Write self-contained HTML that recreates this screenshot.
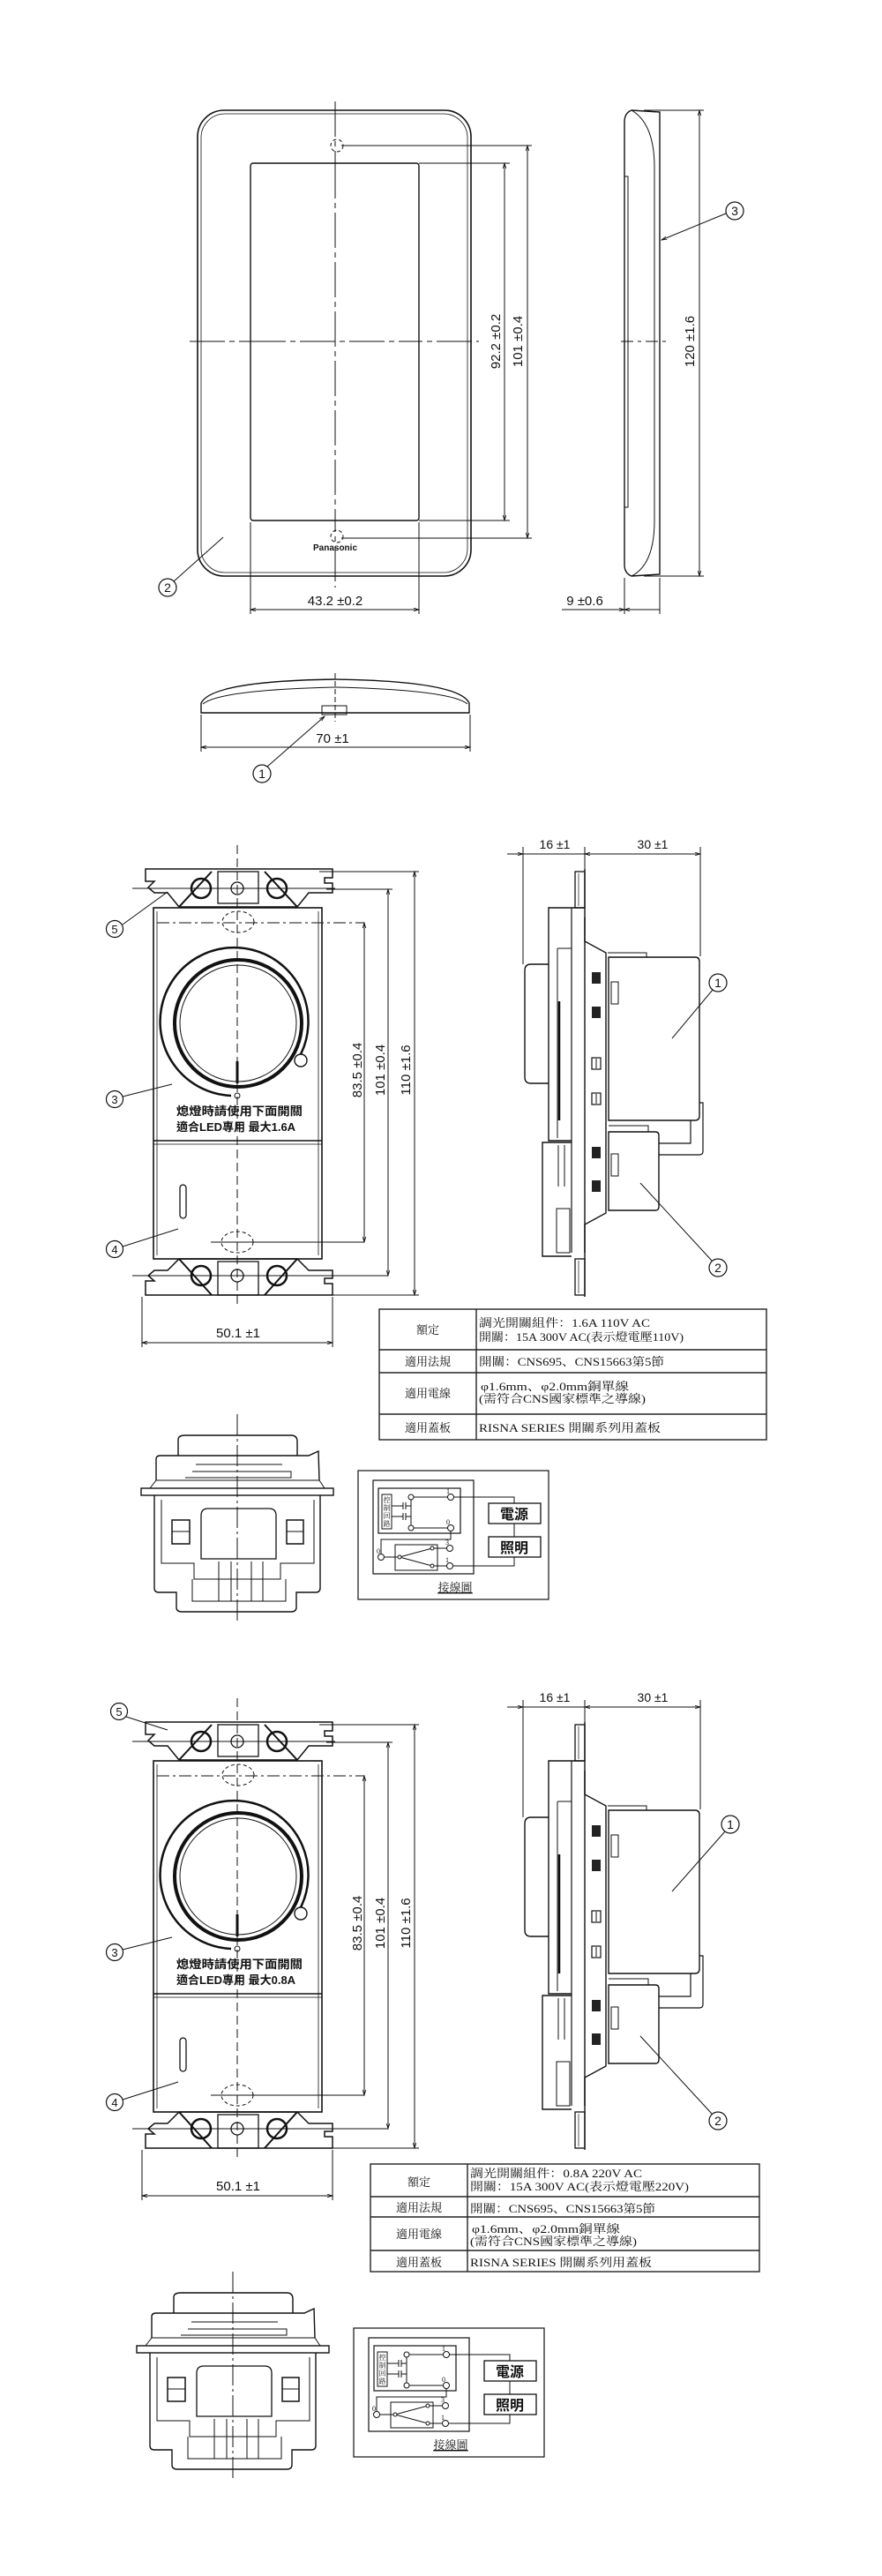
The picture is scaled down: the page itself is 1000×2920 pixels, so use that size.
<!DOCTYPE html>
<html><head><meta charset="utf-8"><style>
html,body{margin:0;padding:0;background:#fff}
svg{display:block}
text{font-family:"Liberation Sans","Noto Sans CJK TC",sans-serif;fill:#111}
.s{font-family:"Liberation Serif","Noto Serif CJK SC","Noto Sans CJK TC",serif}
</style></head><body>
<svg width="1000" height="2920" viewBox="0 0 1000 2920" xmlns="http://www.w3.org/2000/svg">
<defs>
<marker id="a" viewBox="0 0 10 10" refX="10" refY="5" markerWidth="9" markerHeight="6" orient="auto-start-reverse"><path d="M0,2 L10,5 L0,8" fill="none" stroke="#111" stroke-width="1.3"/></marker>
<g id="sw">
 <!-- front view -->
 <line x1="269" y1="958" x2="269" y2="1482" stroke="#111" stroke-width="1" stroke-dasharray="10,5"/>
 <path d="M165,985 L377,985 L377,995 L368,995 L368,1001 L377,1001 L377,1012 L350,1012 L337,1028 L203,1028 L190,1012 L175,1012 L168,1006 L175,999 L165,999 Z" fill="none" stroke="#111" stroke-width="1.5"/>
 <rect x="247" y="988" width="46" height="36" fill="none" stroke="#111" stroke-width="1.3"/>
 <circle cx="269" cy="1007" r="7" fill="none" stroke="#111" stroke-width="1.3"/>
 <circle cx="228" cy="1007" r="11" fill="none" stroke="#111" stroke-width="2.5"/>
 <circle cx="314" cy="1007" r="11" fill="none" stroke="#111" stroke-width="2.5"/>
 <line x1="203" y1="1028" x2="240" y2="988" stroke="#111" stroke-width="2"/>
 <line x1="337" y1="1028" x2="300" y2="988" stroke="#111" stroke-width="2"/>
 <line x1="150" y1="1007" x2="380" y2="1007" stroke="#111" stroke-width="1"/>
 <path d="M165,1468 L377,1468 L377,1455 L368,1455 L368,1449 L377,1449 L377,1440 L350,1440 L337,1427 L203,1427 L190,1440 L175,1440 L168,1446 L175,1452 L165,1452 Z" fill="none" stroke="#111" stroke-width="1.5"/>
 <rect x="247" y="1430" width="46" height="38" fill="none" stroke="#111" stroke-width="1.3"/>
 <circle cx="269" cy="1446" r="7" fill="none" stroke="#111" stroke-width="1.3"/>
 <circle cx="228" cy="1446" r="11" fill="none" stroke="#111" stroke-width="2.5"/>
 <circle cx="314" cy="1446" r="11" fill="none" stroke="#111" stroke-width="2.5"/>
 <line x1="203" y1="1427" x2="240" y2="1468" stroke="#111" stroke-width="2"/>
 <line x1="337" y1="1427" x2="300" y2="1468" stroke="#111" stroke-width="2"/>
 <line x1="150" y1="1446" x2="440" y2="1446" stroke="#111" stroke-width="1"/>
 <rect x="174" y="1029" width="191" height="398" fill="none" stroke="#111" stroke-width="1.6"/>
 <line x1="178" y1="1033" x2="178" y2="1423" stroke="#111" stroke-width="0.8"/>
 <line x1="361" y1="1033" x2="361" y2="1423" stroke="#111" stroke-width="0.8"/>
 <line x1="174" y1="1293" x2="365" y2="1293" stroke="#111" stroke-width="1.6"/>
 <line x1="174" y1="1297" x2="365" y2="1297" stroke="#111" stroke-width="0.8"/>
 <ellipse cx="270" cy="1045" rx="18" ry="12" fill="none" stroke="#111" stroke-dasharray="4,3"/>
 <ellipse cx="269" cy="1408" rx="18" ry="12" fill="none" stroke="#111" stroke-dasharray="4,3"/>
 <line x1="178" y1="1046" x2="413" y2="1046" stroke="#111" stroke-dasharray="14,4,3,4"/>
 <line x1="239" y1="1408" x2="413" y2="1408" stroke="#111"/>
 <path d="M262,1242 A84,84 0 1 1 341,1195" fill="none" stroke="#111" stroke-width="2.5"/>
 <circle cx="341" cy="1202" r="7" fill="none" stroke="#111" stroke-width="1.4"/>
 <circle cx="269" cy="1242" r="3" fill="none" stroke="#111"/>
 <circle cx="270" cy="1160" r="72" fill="none" stroke="#111" stroke-width="4"/>
 <circle cx="270" cy="1160" r="66" fill="none" stroke="#111" stroke-width="1"/>
 <line x1="269" y1="1203" x2="269" y2="1228" stroke="#111" stroke-width="3"/>
 <rect x="204" y="1343" width="7" height="38" rx="3.5" fill="none" stroke="#111" stroke-width="1.3"/>
 <!-- dims front -->
 <line x1="413" y1="1046" x2="413" y2="1408" stroke="#111" marker-start="url(#a)" marker-end="url(#a)"/>
 <line x1="370" y1="1008" x2="445" y2="1008" stroke="#111"/>
 <line x1="440" y1="1008" x2="440" y2="1446" stroke="#111" marker-start="url(#a)" marker-end="url(#a)"/>
 <line x1="362" y1="988" x2="475" y2="988" stroke="#111"/>
 <line x1="470" y1="988" x2="470" y2="1468" stroke="#111" marker-start="url(#a)" marker-end="url(#a)"/>
 <line x1="377" y1="1468" x2="475" y2="1468" stroke="#111"/>
 <text x="0" y="0" font-size="15" text-anchor="middle" transform="translate(410,1213) rotate(-90)">83.5 ±0.4</text>
 <text x="0" y="0" font-size="15" text-anchor="middle" transform="translate(436,1213) rotate(-90)">101 ±0.4</text>
 <text x="0" y="0" font-size="15" text-anchor="middle" transform="translate(465,1213) rotate(-90)">110 ±1.6</text>
 <line x1="161" y1="1470" x2="161" y2="1527" stroke="#111"/>
 <line x1="377" y1="1470" x2="377" y2="1527" stroke="#111"/>
 <line x1="161" y1="1522" x2="377" y2="1522" stroke="#111" marker-start="url(#a)" marker-end="url(#a)"/>
 <text x="270" y="1516" font-size="15" text-anchor="middle">50.1 ±1</text>
 <circle cx="130" cy="1246" r="9.5" fill="none" stroke="#111" stroke-width="1.2"/><text x="130" y="1251" font-size="13" text-anchor="middle">3</text>
 <line x1="139" y1="1243" x2="195" y2="1229" stroke="#111"/>
 <circle cx="130" cy="1416" r="9.5" fill="none" stroke="#111" stroke-width="1.2"/><text x="130" y="1421" font-size="13" text-anchor="middle">4</text>
 <line x1="139" y1="1413" x2="202" y2="1393" stroke="#111"/>
 <!-- side view -->
 <line x1="593" y1="960" x2="593" y2="1093" stroke="#111"/>
 <line x1="794" y1="960" x2="794" y2="1084" stroke="#111"/>
 <line x1="663" y1="960" x2="663" y2="985" stroke="#111"/>
 <line x1="575" y1="968" x2="593" y2="968" stroke="#111" marker-end="url(#a)"/>
 <line x1="663" y1="968" x2="794" y2="968" stroke="#111" marker-start="url(#a)" marker-end="url(#a)"/>
 <line x1="593" y1="968" x2="663" y2="968" stroke="#111"/>
 <text x="629" y="962" font-size="14" text-anchor="middle">16 ±1</text>
 <text x="740" y="962" font-size="14" text-anchor="middle">30 ±1</text>
 <rect x="652" y="988" width="11" height="41" fill="none" stroke="#111" stroke-width="1.3"/>
 <rect x="652" y="1427" width="11" height="41" fill="none" stroke="#111" stroke-width="1.3"/>
 <line x1="656" y1="990" x2="656" y2="1027" stroke="#111" stroke-width="0.7"/>
 <line x1="656" y1="1429" x2="656" y2="1466" stroke="#111" stroke-width="0.7"/>
 <line x1="663" y1="985" x2="663" y2="1470" stroke="#111" stroke-width="1.4"/>
 <path d="M663,1029 L622,1029 L622,1293 L648,1293" fill="none" stroke="#111" stroke-width="1.4"/>
 <line x1="648" y1="1029" x2="648" y2="1420" stroke="#111" stroke-width="1.2"/>
 <path d="M632,1075 L648,1075 M632,1075 L632,1290" fill="none" stroke="#111"/>
 <line x1="634" y1="1135" x2="634" y2="1270" stroke="#111" stroke-width="2.5"/>
 <path d="M622,1093 L602,1093 Q595,1093 595,1100 L595,1221 Q595,1228 602,1228 L622,1228" fill="none" stroke="#111" stroke-width="1.4"/>
 <path d="M648,1295 L615,1295 L615,1424 L648,1424" fill="none" stroke="#111" stroke-width="1.4"/>
 <path d="M633,1298 L633,1345 M640,1298 L640,1345 M631,1370 L646,1370 L646,1420 L631,1420 Z" fill="none" stroke="#111"/>
 <path d="M663,1040 L663,1067 L687,1080 L687,1375 L663,1388 L663,1420" fill="none" stroke="#111" stroke-width="1.4"/>
 <path d="M690,1085 L788,1085 Q793,1085 793,1090 L793,1265 Q793,1270 788,1270 L690,1270 Z" fill="none" stroke="#111" stroke-width="1.4"/>
 <path d="M689,1080 L733,1080 L733,1085" fill="none" stroke="#111"/>
 <path d="M690,1283 L743,1283 Q747,1283 747,1287 L747,1368 Q747,1372 743,1372 L690,1372 Z" fill="none" stroke="#111" stroke-width="1.4"/>
 <path d="M793,1250 L797,1250 L797,1305 Q797,1309 793,1309 L747,1309 M783,1270 L783,1296 L747,1296" fill="none" stroke="#111" stroke-width="1.2"/>
 <path d="M690,1276 L735,1276 L735,1283" fill="none" stroke="#111"/>
 <rect x="693" y="1113" width="8" height="25" fill="none" stroke="#111"/>
 <rect x="693" y="1308" width="8" height="25" fill="none" stroke="#111"/>
 <g fill="#222">
 <rect x="671" y="1102" width="10" height="13"/><rect x="671" y="1141" width="10" height="13"/>
 <rect x="671" y="1300" width="10" height="13"/><rect x="671" y="1338" width="10" height="13"/></g>
 <g fill="none" stroke="#111" stroke-width="1.2">
 <rect x="671" y="1199" width="10" height="13"/><rect x="671" y="1239" width="10" height="13"/></g>
 <line x1="676" y1="1200" x2="676" y2="1211" stroke="#111"/><line x1="676" y1="1240" x2="676" y2="1251" stroke="#111"/>
 <circle cx="814" cy="1437" r="10" fill="none" stroke="#111" stroke-width="1.2"/><text x="814" y="1442" font-size="14" text-anchor="middle">2</text>
 <line x1="726" y1="1341" x2="807" y2="1429" stroke="#111"/>
</g>
<g id="bv">
 <line x1="269" y1="1603" x2="269" y2="1840" stroke="#111" stroke-dasharray="24,4,3,4"/>
 <path d="M202,1650 L202,1632 Q202,1627 210,1627 L330,1627 Q337,1627 337,1634 L337,1650" fill="none" stroke="#111" stroke-width="1.4"/>
 <path d="M177,1678 L177,1654 Q177,1650 182,1650 L350,1650 L361,1645 L362,1678" fill="none" stroke="#111" stroke-width="1.4"/>
 <path d="M218,1668 L330,1668 L330,1675 L210,1675 M222,1660 L320,1660" fill="none" stroke="#111"/>
 <rect x="160" y="1687" width="218" height="8" fill="none" stroke="#111" stroke-width="1.4"/>
 <path d="M177,1678 L362,1678 M177,1678 L170,1687 M362,1678 L368,1687" fill="none" stroke="#111"/>
 <path d="M175,1695 L175,1800 Q175,1805 180,1805 L200,1805 L200,1822 Q200,1827 206,1827 L330,1827 Q336,1827 336,1822 L336,1805 L358,1805 Q363,1805 363,1800 L363,1695" fill="none" stroke="#111" stroke-width="1.4"/>
 <path d="M183,1700 L183,1772 L220,1772 L220,1790 L318,1790 L318,1772 L356,1772 L356,1700" fill="none" stroke="#111"/>
 <path d="M228,1767 L228,1718 Q228,1710 236,1710 L305,1710 Q313,1710 313,1718 L313,1767 Z" fill="none" stroke="#111" stroke-width="1.3"/>
 <path d="M218,1790 L218,1815 L324,1815 L324,1790 M248,1770 L248,1815 M262,1770 L262,1815 M285,1770 L285,1815 M298,1770 L298,1815" fill="none" stroke="#111"/>
 <rect x="195" y="1723" width="20" height="27" fill="none" stroke="#111" stroke-width="1.5"/><line x1="195" y1="1736" x2="215" y2="1736" stroke="#111"/>
 <rect x="325" y="1723" width="19" height="27" fill="none" stroke="#111" stroke-width="1.5"/><line x1="325" y1="1736" x2="344" y2="1736" stroke="#111"/>
 <!-- wiring diagram -->
 <rect x="406" y="1667" width="216" height="146" fill="none" stroke="#111" stroke-width="1.2"/>
 <rect x="423" y="1678" width="114" height="106" fill="none" stroke="#111" stroke-width="1.2"/>
 <rect x="429" y="1687" width="93" height="51" fill="none" stroke="#111" stroke-width="1.2"/>
 <rect x="433" y="1694" width="11" height="39" fill="none" stroke="#111"/>
 <text font-size="8" class="s" text-anchor="middle"><tspan x="438.5" y="1703">控</tspan><tspan x="438.5" y="1712">制</tspan><tspan x="438.5" y="1721">回</tspan><tspan x="438.5" y="1730">路</tspan></text>
 <path d="M444,1707 L457,1707 M444,1719 L457,1719 M457,1703 L457,1711 M457,1715 L457,1723 M460,1703 L460,1711 M460,1715 L460,1723 M460,1707 L466,1707 M460,1719 L466,1719 M466,1697 L466,1732 M466,1697 L508,1697 M466,1732 L508,1732" fill="none" stroke="#111"/>
 <circle cx="466" cy="1697" r="3" fill="#fff" stroke="#111"/><circle cx="466" cy="1732" r="3" fill="#fff" stroke="#111"/>
 <circle cx="511" cy="1697" r="3.5" fill="#fff" stroke="#111"/><circle cx="511" cy="1732" r="3.5" fill="#fff" stroke="#111"/>
 <text x="506" y="1693" font-size="8" class="s">1</text><text x="506" y="1728" font-size="8" class="s">0</text>
 <path d="M514,1697 L583,1697 L583,1704 M583,1727 L583,1742 M583,1765 L583,1775 L514,1775 M511,1736 L511,1745 L432,1745 L432,1762" fill="none" stroke="#111"/>
 <rect x="448" y="1751" width="48" height="29" fill="none" stroke="#111"/>
 <path d="M435,1765 L453,1765 L490,1755 L507,1755 M453,1765 L490,1775 L507,1775" fill="none" stroke="#111"/>
 <circle cx="453" cy="1765" r="2" fill="#fff" stroke="#111"/><circle cx="490" cy="1755" r="2" fill="#fff" stroke="#111"/><circle cx="490" cy="1775" r="2" fill="#fff" stroke="#111"/>
 <circle cx="510" cy="1755" r="3.5" fill="#fff" stroke="#111"/><circle cx="510" cy="1775" r="3.5" fill="#fff" stroke="#111"/><circle cx="432" cy="1765" r="3.5" fill="#fff" stroke="#111"/>
 <text x="505" y="1751" font-size="8" class="s">3</text><text x="505" y="1771" font-size="8" class="s">1</text><text x="427" y="1761" font-size="8" class="s">0</text>
 <rect x="554" y="1704" width="59" height="23" fill="#fff" stroke="#111" stroke-width="1.3"/>
 <rect x="554" y="1742" width="59" height="23" fill="#fff" stroke="#111" stroke-width="1.3"/>
 <text x="583" y="1722" font-size="16" font-weight="bold" text-anchor="middle">電源</text>
 <text x="583" y="1760" font-size="16" font-weight="bold" text-anchor="middle">照明</text>
 <text x="516" y="1804" font-size="13" class="s" text-anchor="middle" text-decoration="underline">接線圖</text>
 <line x1="496" y1="1806" x2="536" y2="1806" stroke="#111" stroke-width="0.8"/>
</g>
</defs>

<!-- ===== Section 1: cover plate ===== -->
<line x1="380" y1="115" x2="380" y2="666" stroke="#111" stroke-dasharray="40,5,6,5"/>
<line x1="215" y1="387" x2="543" y2="387" stroke="#111" stroke-dasharray="40,5,6,5"/>
<rect x="224" y="125" width="310" height="528" rx="30" fill="none" stroke="#111" stroke-width="1.6"/>
<rect x="228" y="129" width="302" height="520" rx="27" fill="none" stroke="#111" stroke-width="0.8"/>
<rect x="284" y="185" width="191" height="405" rx="3" fill="#fff" stroke="#111" stroke-width="1.4"/>
<line x1="380" y1="185" x2="380" y2="590" stroke="#111" stroke-dasharray="40,5,6,5"/>
<line x1="284" y1="387" x2="475" y2="387" stroke="#111" stroke-dasharray="40,5,6,5"/>
<circle cx="382" cy="165" r="7" fill="none" stroke="#111" stroke-dasharray="4,3"/>
<circle cx="382" cy="608" r="7" fill="none" stroke="#111" stroke-dasharray="4,3"/>
<text x="380" y="624" font-size="10" font-weight="bold" text-anchor="middle">Panasonic</text>
<line x1="387" y1="165" x2="603" y2="165" stroke="#111"/>
<line x1="387" y1="610" x2="603" y2="610" stroke="#111"/>
<line x1="475" y1="185" x2="578" y2="185" stroke="#111"/>
<line x1="475" y1="590" x2="578" y2="590" stroke="#111"/>
<line x1="572" y1="185" x2="572" y2="590" stroke="#111" marker-start="url(#a)" marker-end="url(#a)"/>
<line x1="598" y1="165" x2="598" y2="610" stroke="#111" marker-start="url(#a)" marker-end="url(#a)"/>
<text font-size="15" text-anchor="middle" transform="translate(567,387) rotate(-90)">92.2 ±0.2</text>
<text font-size="15" text-anchor="middle" transform="translate(592,387) rotate(-90)">101 ±0.4</text>
<line x1="284" y1="592" x2="284" y2="696" stroke="#111"/>
<line x1="475" y1="592" x2="475" y2="696" stroke="#111"/>
<line x1="284" y1="691" x2="475" y2="691" stroke="#111" marker-start="url(#a)" marker-end="url(#a)"/>
<text x="380" y="686" font-size="15" text-anchor="middle">43.2 ±0.2</text>
<circle cx="190" cy="666" r="10" fill="none" stroke="#111" stroke-width="1.2"/><text x="190" y="671" font-size="14" text-anchor="middle">2</text>
<line x1="197" y1="659" x2="253" y2="609" stroke="#111"/>
<!-- side view plate -->
<line x1="704" y1="387" x2="757" y2="387" stroke="#111" stroke-dasharray="14,5,4,5"/>
<path d="M716,125 L748,127 L748,651 L716,653 Q708,650 708,640 L708,138 Q708,128 716,125 Z" fill="none" stroke="#111" stroke-width="1.4"/>
<path d="M716,125 Q742,140 742,190 L742,590 Q742,640 716,653" fill="none" stroke="#111"/>
<path d="M708,200 L712,200 L712,575 L708,575" fill="none" stroke="#111"/>
<line x1="730" y1="125" x2="798" y2="125" stroke="#111"/>
<line x1="730" y1="653" x2="798" y2="653" stroke="#111"/>
<line x1="793" y1="125" x2="793" y2="653" stroke="#111" marker-start="url(#a)" marker-end="url(#a)"/>
<text font-size="15" text-anchor="middle" transform="translate(787,387) rotate(-90)">120 ±1.6</text>
<line x1="708" y1="655" x2="708" y2="696" stroke="#111"/>
<line x1="748" y1="655" x2="748" y2="696" stroke="#111"/>
<line x1="637" y1="691" x2="708" y2="691" stroke="#111" marker-end="url(#a)"/>
<line x1="708" y1="691" x2="748" y2="691" stroke="#111" marker-start="url(#a)"/>
<text x="663" y="686" font-size="15" text-anchor="middle">9 ±0.6</text>
<circle cx="833" cy="239" r="10" fill="none" stroke="#111" stroke-width="1.2"/><text x="833" y="244" font-size="14" text-anchor="middle">3</text>
<line x1="823" y1="242" x2="750" y2="272" stroke="#111" marker-end="url(#a)"/>
<!-- bottom view plate -->
<line x1="380" y1="763" x2="380" y2="818" stroke="#111" stroke-dasharray="6,3"/>
<path d="M228,808 L228,797 Q240,772 380,770 Q520,772 532,797 L532,808 Z" fill="none" stroke="#111" stroke-width="1.4"/>
<path d="M230,798 Q250,782 380,779 Q510,782 530,798" fill="none" stroke="#111"/>
<rect x="365" y="800" width="28" height="10" fill="none" stroke="#111"/>
<line x1="228" y1="810" x2="228" y2="852" stroke="#111"/>
<line x1="533" y1="810" x2="533" y2="852" stroke="#111"/>
<line x1="228" y1="847" x2="533" y2="847" stroke="#111" marker-start="url(#a)" marker-end="url(#a)"/>
<text x="377" y="842" font-size="15" text-anchor="middle">70 ±1</text>
<circle cx="297" cy="877" r="10" fill="none" stroke="#111" stroke-width="1.2"/><text x="297" y="882" font-size="14" text-anchor="middle">1</text>
<line x1="303" y1="869" x2="368" y2="812" stroke="#111" marker-end="url(#a)"/>

<!-- ===== Section 2 ===== -->
<use href="#sw"/>
<circle cx="130" cy="1053" r="9.5" fill="none" stroke="#111" stroke-width="1.2"/><text x="130" y="1058" font-size="13" text-anchor="middle">5</text>
<line x1="139" y1="1048" x2="190" y2="1011" stroke="#111"/>
<text x="200" y="1264" font-size="13" font-weight="bold" textLength="143" lengthAdjust="spacingAndGlyphs">熄燈時請使用下面開關</text>
<text x="200" y="1282" font-size="13" font-weight="bold">適合LED專用 最大1.6A</text>
<circle cx="814" cy="1114" r="10" fill="none" stroke="#111" stroke-width="1.2"/><text x="814" y="1119" font-size="14" text-anchor="middle">1</text>
<line x1="762" y1="1177" x2="808" y2="1122" stroke="#111"/>
<!-- table 2 -->
<g fill="none" stroke="#222" stroke-width="1.4">
<rect x="430" y="1484" width="439" height="148"/>
<line x1="540" y1="1484" x2="540" y2="1632"/>
<line x1="430" y1="1530" x2="869" y2="1530"/><line x1="430" y1="1556" x2="869" y2="1556"/><line x1="430" y1="1603" x2="869" y2="1603"/></g>
<g class="s" font-size="13">
<text x="485" y="1512" text-anchor="middle" class="s">額定</text>
<text x="485" y="1548" text-anchor="middle" class="s">適用法規</text>
<text x="485" y="1584" text-anchor="middle" class="s">適用電線</text>
<text x="485" y="1623" text-anchor="middle" class="s">適用蓋板</text>
<text x="543" y="1504" class="s" textLength="194" lengthAdjust="spacingAndGlyphs">調光開關組件：1.6A 110V AC</text>
<text x="543" y="1520" class="s" textLength="232" lengthAdjust="spacingAndGlyphs">開關：15A 300V AC(表示燈電壓110V)</text>
<text x="543" y="1548" class="s" textLength="210" lengthAdjust="spacingAndGlyphs">開關：CNS695、CNS15663第5節</text>
<text x="545" y="1576" class="s" textLength="168" lengthAdjust="spacingAndGlyphs">φ1.6mm、φ2.0mm銅單線</text>
<text x="543" y="1590" class="s" textLength="189" lengthAdjust="spacingAndGlyphs">(需符合CNS國家標準之導線)</text>
<text x="543" y="1623" class="s" textLength="206" lengthAdjust="spacingAndGlyphs">RISNA SERIES 開關系列用蓋板</text>
</g>
<use href="#bv"/>

<!-- ===== Section 3 ===== -->
<use href="#sw" transform="translate(0,967)"/>
<circle cx="135" cy="1940" r="9.5" fill="none" stroke="#111" stroke-width="1.2"/><text x="135" y="1945" font-size="13" text-anchor="middle">5</text>
<line x1="143" y1="1946" x2="190" y2="1961" stroke="#111"/>
<text x="200" y="2231" font-size="13" font-weight="bold" textLength="143" lengthAdjust="spacingAndGlyphs">熄燈時請使用下面開關</text>
<text x="200" y="2249" font-size="13" font-weight="bold">適合LED專用 最大0.8A</text>
<circle cx="828" cy="2068" r="10" fill="none" stroke="#111" stroke-width="1.2"/><text x="828" y="2073" font-size="14" text-anchor="middle">1</text>
<line x1="762" y1="2144" x2="822" y2="2076" stroke="#111"/>
<g fill="none" stroke="#222" stroke-width="1.4">
<rect x="420" y="2453" width="441" height="122"/>
<line x1="530" y1="2453" x2="530" y2="2575"/>
<line x1="420" y1="2490" x2="861" y2="2490"/><line x1="420" y1="2513" x2="861" y2="2513"/><line x1="420" y1="2551" x2="861" y2="2551"/></g>
<g font-size="13">
<text x="475" y="2478" text-anchor="middle" class="s">額定</text>
<text x="475" y="2507" text-anchor="middle" class="s">適用法規</text>
<text x="475" y="2537" text-anchor="middle" class="s">適用電線</text>
<text x="475" y="2569" text-anchor="middle" class="s">適用蓋板</text>
<text x="533" y="2468" class="s" textLength="195" lengthAdjust="spacingAndGlyphs">調光開關組件：0.8A 220V AC</text>
<text x="533" y="2483" class="s" textLength="248" lengthAdjust="spacingAndGlyphs">開關：15A 300V AC(表示燈電壓220V)</text>
<text x="533" y="2508" class="s" textLength="210" lengthAdjust="spacingAndGlyphs">開關：CNS695、CNS15663第5節</text>
<text x="535" y="2531" class="s" textLength="168" lengthAdjust="spacingAndGlyphs">φ1.6mm、φ2.0mm銅單線</text>
<text x="533" y="2545" class="s" textLength="189" lengthAdjust="spacingAndGlyphs">(需符合CNS國家標準之導線)</text>
<text x="533" y="2569" class="s" textLength="206" lengthAdjust="spacingAndGlyphs">RISNA SERIES 開關系列用蓋板</text>
</g>
<use href="#bv" transform="translate(-5,972)"/>
</svg>
</body></html>
